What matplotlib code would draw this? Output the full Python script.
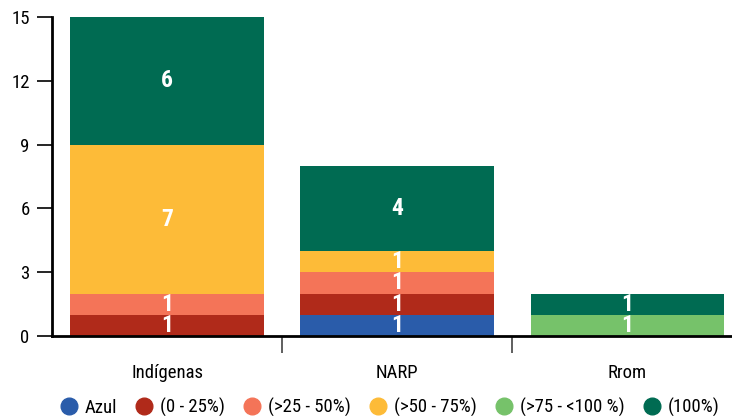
import matplotlib.pyplot as plt
import numpy as np
from matplotlib.lines import Line2D
from matplotlib import font_manager

nombres = sorted({f.name for f in font_manager.fontManager.ttflist})
condensadas = [n for n in ['Liberation Sans Narrow', 'DejaVu Sans Condensed', 'Roboto Condensed'] if n in nombres]
plt.rcParams['font.family'] = condensadas + ['Roboto', 'DejaVu Sans']

categorias = ['Indígenas', 'NARP', 'Rrom']
series = ['Azul', '(0 - 25%)', '(>25 - 50%)', '(>50 - 75%)', '(>75 - <100 %)', '(100%)']
azul = [0, 1, 0]
p0_25 = [1, 1, 0]
p25_50 = [1, 1, 0]
p50_75 = [7, 1, 0]
p75_100 = [0, 0, 1]
p100 = [6, 4, 1]
colores = ['#2a5caa', '#b02a1a', '#f47458', '#fdbb38', '#76c26a', '#006b52']

valores = [azul, p0_25, p25_50, p50_75, p75_100, p100]

fig = plt.figure(figsize=(7.32, 4.16), dpi=100)
ax = fig.add_axes([0.071, 0.192, 0.943, 0.767])

x = np.arange(len(categorias))
bottom = np.zeros(len(categorias))
for nombre, vals, c in zip(series, valores, colores):
    vals = np.array(vals, dtype=float)
    ax.bar(x, vals, 0.84, bottom=bottom, color=c, label=nombre)
    for xi, v, b in zip(x, vals, bottom):
        if v > 0:
            ax.text(xi, b + v / 2, str(int(v)), ha='center', va='center',
                    color='white', fontsize=17, fontweight='bold')
    bottom += vals

ax.set_xlim(-0.5, 2.5)
ax.set_ylim(0, 15)
ax.set_yticks([0, 3, 6, 9, 12, 15])
ax.tick_params(axis='y', labelsize=13.5, length=11, width=1.2, pad=5)
ax.set_xticks([0.5, 1.5])
ax.set_xticklabels([])
ax.tick_params(axis='x', length=12, width=1.2, color='#444444')
for xi, cat in zip(x, categorias):
    ax.text(xi, -1.75, cat, ha='center', va='center', fontsize=13.5)

for s in ['top', 'right']:
    ax.spines[s].set_visible(False)
ax.spines['left'].set_linewidth(2)
ax.spines['bottom'].set_linewidth(2)

handles = [Line2D([], [], marker='o', ls='', markersize=12, color=c) for c in colores]
ax.legend(handles, series, loc='center left', bbox_to_anchor=(0.0, -0.223), ncol=6,
          frameon=False, fontsize=13.5, handlelength=1, columnspacing=0.95,
          handletextpad=0.35, borderaxespad=0)

fig.savefig('out.png', dpi=100)
